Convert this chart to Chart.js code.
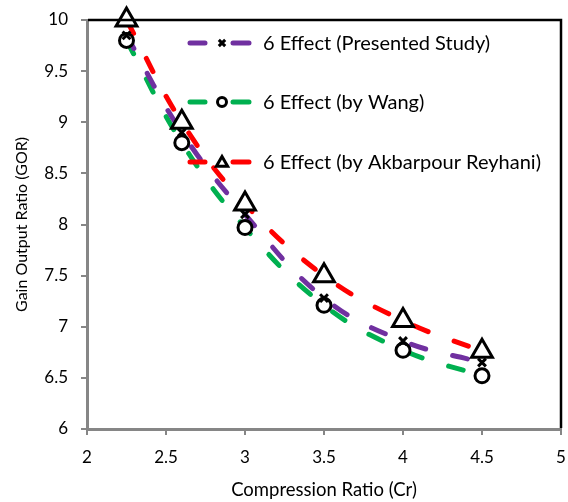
<!DOCTYPE html>
<html>
<head>
<meta charset="utf-8">
<script src="https://cdn.jsdelivr.net/npm/chart.js@4/dist/chart.umd.min.js"></script>
<style>
  html, body { margin: 0; padding: 0; background: #fff; }
  #wrap { width: 568px; height: 502px; }
</style>
</head>
<body>
<div id="wrap"><canvas id="chart" width="568" height="502"></canvas></div>
<script>
const compressionRatio = [2.25, 2.6, 3, 3.5, 4, 4.5];
const presentedStudy = [9.85, 8.9, 8.1, 7.28, 6.86, 6.65];
const byWang = [9.8, 8.8, 7.97, 7.21, 6.77, 6.52];
const byAkbarpour = [10.0, 9.0, 8.2, 7.5, 7.06, 6.76];
const seriesNames = ["6 Effect (Presented Study)", "6 Effect (by Wang)", "6 Effect (by Akbarpour Reyhani)"];
const seriesColors = ["#7030a0", "#00b050", "#ff0000"];

const FONT = "Lato, 'Open Sans', sans-serif";
const toPoints = ys => ys.map((y, i) => ({ x: compressionRatio[i], y: y }));

// dashed smooth lines only
function lineSet(label, ys, color) {
    return {
        label: label,
        data: toPoints(ys),
        borderColor: color,
        borderWidth: 5,
        borderDash: [15, 28],
        borderCapStyle: "round",
        tension: 0.4,
        pointRadius: 0,
        fill: false,
        clip: false,
        order: 2
    };
}

// black hollow markers, drawn above all lines
function markerSet(label, ys, style, radius) {
    return {
        label: label,
        data: toPoints(ys),
        showLine: false,
        pointStyle: style,
        pointRadius: radius,
        pointBorderColor: "#000",
        pointBackgroundColor: "#fff",
        pointBorderWidth: 3,
        clip: false,
        order: 1
    };
}

const markerStyles = ["crossRot", "circle", "triangle"];

// pin the plot area to the reference frame
const PLOT = { left: 87, right: 561, top: 20, bottom: 429 };
const pinArea = {
    id: "pinArea",
    afterLayout(chart) {
        const a = chart.chartArea;
        a.left = PLOT.left; a.right = PLOT.right; a.top = PLOT.top; a.bottom = PLOT.bottom;
        a.width = PLOT.right - PLOT.left; a.height = PLOT.bottom - PLOT.top;
        const x = chart.scales.x, y = chart.scales.y;
        x.left = PLOT.left; x.right = PLOT.right; x.width = a.width;
        x.top = PLOT.bottom; x.bottom = chart.height; x.height = chart.height - PLOT.bottom;
        y.left = 0; y.right = PLOT.left; y.width = PLOT.left;
        y.top = PLOT.top; y.bottom = PLOT.bottom; y.height = a.height;
        x.configure();
        y.configure();
    }
};

const framePlugin = {
    id: "frameAndLegend",
    afterDraw(chart) {
        const ctx = chart.ctx;
        const area = chart.chartArea;
        ctx.save();
        ctx.strokeStyle = "#000";
        ctx.lineWidth = 2.5;
        ctx.beginPath();
        ctx.moveTo(area.left + 1, area.top);
        ctx.lineTo(area.right, area.top);
        ctx.lineTo(area.right, area.bottom - 1);
        ctx.stroke();
        ctx.restore();

        const rows = [43, 102, 162];
        seriesNames.forEach((name, i) => {
            const y = rows[i];
            ctx.save();
            ctx.strokeStyle = seriesColors[i];
            ctx.lineWidth = 5;
            ctx.lineCap = "round";
            ctx.beginPath();
            ctx.moveTo(190, y); ctx.lineTo(205, y);
            ctx.moveTo(233, y); ctx.lineTo(249, y);
            ctx.stroke();
            ctx.restore();

            ctx.save();
            ctx.strokeStyle = "#000";
            ctx.fillStyle = "#fff";
            Chart.helpers.drawPoint(ctx, {
                pointStyle: markerStyles[i],
                radius: markerStyles[i] === "triangle" ? 6.5 : 4.5,
                borderWidth: 3,
                rotation: 0
            }, 222, markerStyles[i] === "triangle" ? y + 1 : y);
            ctx.restore();

            ctx.save();
            ctx.fillStyle = "#000";
            ctx.font = "20px " + FONT;
            ctx.textBaseline = "middle";
            ctx.fillText(name, 263, y + 1);
            ctx.restore();
        });
    }
};

new Chart(document.getElementById("chart"), {
    type: "line",
    data: {
        datasets: [
            lineSet(seriesNames[0], presentedStudy, seriesColors[0]),
            lineSet(seriesNames[1], byWang, seriesColors[1]),
            lineSet(seriesNames[2], byAkbarpour, seriesColors[2]),
            markerSet(seriesNames[0], presentedStudy, "crossRot", 5.5),
            markerSet(seriesNames[1], byWang, "circle", 7),
            markerSet(seriesNames[2], byAkbarpour, "triangle", 12)
        ]
    },
    options: {
        responsive: false,
        animation: false,
        layout: { padding: { top: 20, right: 7, left: 0, bottom: 0 } },
        plugins: { legend: { display: false }, tooltip: { enabled: false } },
        scales: {
            x: {
                type: "linear",
                min: 2, max: 5,
                ticks: {
                    stepSize: 0.5, color: "#000", padding: 12,
                    font: { family: FONT, size: 17 },
                    callback: v => String(v)
                },
                grid: { drawOnChartArea: false, drawTicks: true, tickLength: 6, color: "#868686", lineWidth: 2 },
                border: { color: "#868686", width: 3 },
                title: {
                    display: true, text: "Compression Ratio (Cr)", color: "#000",
                    font: { family: FONT, size: 18.5 }, padding: { top: 0, bottom: 1 }
                },
                afterFit: s => { s.height = 73; }
            },
            y: {
                min: 6, max: 10,
                ticks: {
                    stepSize: 0.5, color: "#000", padding: 13,
                    font: { family: FONT, size: 17 },
                    callback: v => String(v)
                },
                grid: { drawOnChartArea: false, drawTicks: true, tickLength: 6, color: "#868686", lineWidth: 2 },
                border: { color: "#868686", width: 3 },
                title: {
                    display: true, text: "Gain Output Ratio (GOR)", color: "#000",
                    font: { family: FONT, size: 16 }, padding: { top: 12, bottom: 0 }
                },
                afterFit: s => { s.width = 87; }
            }
        }
    },
    plugins: [pinArea, framePlugin]
});
</script>
</body>
</html>
